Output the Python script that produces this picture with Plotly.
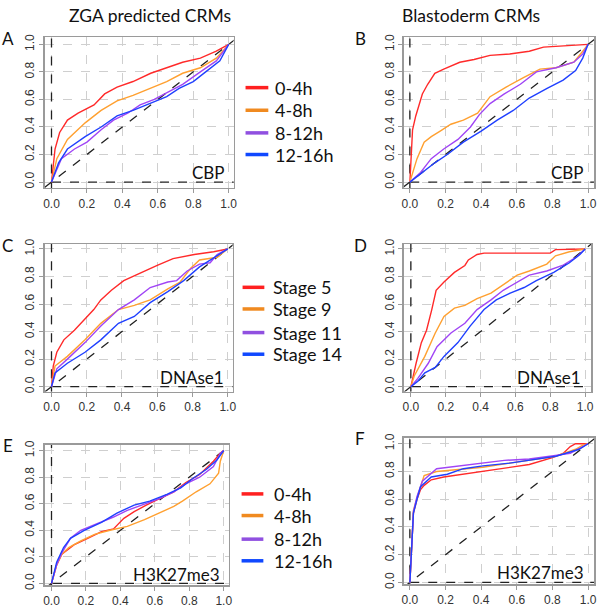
import plotly.graph_objects as go

W, H = 600, 614

# ---------------- data ----------------
series_zga = ["0-4h", "4-8h", "8-12h", "12-16h"]
series_stage = ["Stage 5", "Stage 9", "Stage 11", "Stage 14"]
colors = ["#ff2a2a", "#ffa030", "#a045f5", "#2040ff"]
legend_colors = ["#ff2020", "#f08a20", "#9050e0", "#1048ff"]
tick_vals = [0.0, 0.2, 0.4, 0.6, 0.8, 1.0]
tick_text = ["0.0", "0.2", "0.4", "0.6", "0.8", "1.0"]
col_titles = ["ZGA predicted CRMs", "Blastoderm CRMs"]
panel_letters = ["A", "B", "C", "D", "E", "F"]
panel_marks = ["CBP", "CBP", "DNAse1", "DNAse1", "H3K27me3", "H3K27me3"]

# Panel A: ZGA / CBP
A_red_x = [0, 0.02, 0.046, 0.09, 0.15, 0.20, 0.24, 0.30, 0.37, 0.46, 0.56, 0.65, 0.74, 0.84, 0.93, 1]
A_red_y = [0, 0.24, 0.36, 0.45, 0.50, 0.53, 0.56, 0.64, 0.69, 0.73, 0.79, 0.83, 0.87, 0.90, 0.95, 1]
A_org_x = [0, 0.03, 0.09, 0.19, 0.28, 0.37, 0.46, 0.56, 0.65, 0.74, 0.84, 0.93, 1]
A_org_y = [0, 0.17, 0.31, 0.43, 0.52, 0.59, 0.63, 0.68, 0.73, 0.79, 0.83, 0.90, 1]
A_pur_x = [0, 0.056, 0.13, 0.20, 0.28, 0.35, 0.43, 0.50, 0.58, 0.65, 0.74, 0.84, 0.93, 1]
A_pur_y = [0, 0.17, 0.24, 0.29, 0.38, 0.45, 0.50, 0.56, 0.60, 0.65, 0.71, 0.80, 0.88, 1]
A_blu_x = [0, 0.04, 0.09, 0.19, 0.28, 0.37, 0.46, 0.56, 0.65, 0.72, 0.80, 0.87, 0.95, 1]
A_blu_y = [0, 0.14, 0.24, 0.33, 0.40, 0.48, 0.52, 0.57, 0.62, 0.68, 0.73, 0.80, 0.88, 1]

# Panel B: Blastoderm / CBP
B_red_x = [0, 0.006, 0.015, 0.033, 0.05, 0.07, 0.10, 0.14, 0.19, 0.25, 0.28, 0.36, 0.45, 0.56, 0.67, 0.75, 0.90, 1]
B_red_y = [0, 0.21, 0.38, 0.48, 0.55, 0.64, 0.71, 0.79, 0.82, 0.85, 0.87, 0.89, 0.92, 0.93, 0.95, 0.98, 0.99, 1]
B_org_x = [0, 0.015, 0.04, 0.08, 0.12, 0.17, 0.23, 0.30, 0.38, 0.45, 0.54, 0.64, 0.73, 0.82, 0.92, 0.97, 1]
B_org_y = [0, 0.07, 0.17, 0.29, 0.33, 0.37, 0.42, 0.45, 0.50, 0.62, 0.69, 0.76, 0.82, 0.83, 0.87, 0.95, 1]
B_pur_x = [0, 0.06, 0.12, 0.19, 0.27, 0.34, 0.39, 0.45, 0.53, 0.62, 0.71, 0.82, 0.92, 0.97, 1]
B_pur_y = [0, 0.07, 0.17, 0.24, 0.31, 0.40, 0.49, 0.57, 0.64, 0.71, 0.80, 0.83, 0.87, 0.93, 1]
B_blu_x = [0, 0.06, 0.14, 0.21, 0.30, 0.40, 0.49, 0.58, 0.67, 0.77, 0.86, 0.93, 0.97, 1]
B_blu_y = [0, 0.06, 0.14, 0.20, 0.29, 0.37, 0.45, 0.52, 0.61, 0.68, 0.74, 0.81, 0.90, 1]

# Panel C: ZGA / DNAse1
C_red_x = [0, 0.01, 0.03, 0.07, 0.13, 0.19, 0.24, 0.28, 0.34, 0.41, 0.51, 0.60, 0.69, 0.81, 0.92, 1]
C_red_y = [0, 0.15, 0.25, 0.34, 0.41, 0.49, 0.56, 0.63, 0.70, 0.77, 0.83, 0.88, 0.93, 0.96, 0.98, 1]
C_org_x = [0, 0.02, 0.09, 0.19, 0.28, 0.38, 0.47, 0.56, 0.66, 0.73, 0.79, 0.84, 0.94, 1]
C_org_y = [0, 0.15, 0.22, 0.34, 0.46, 0.56, 0.59, 0.63, 0.71, 0.76, 0.86, 0.92, 0.94, 1]
C_pur_x = [0, 0.03, 0.09, 0.19, 0.28, 0.38, 0.47, 0.56, 0.66, 0.71, 0.77, 0.84, 0.90, 0.94, 1]
C_pur_y = [0, 0.13, 0.20, 0.32, 0.44, 0.56, 0.63, 0.72, 0.76, 0.77, 0.84, 0.89, 0.90, 0.96, 1]
C_blu_x = [0, 0.02, 0.09, 0.19, 0.28, 0.38, 0.47, 0.56, 0.66, 0.75, 0.84, 0.94, 1]
C_blu_y = [0, 0.10, 0.17, 0.25, 0.34, 0.46, 0.51, 0.61, 0.69, 0.77, 0.87, 0.95, 1]

# Panel D: Blastoderm / DNAse1
D_red_x = [0, 0.013, 0.03, 0.06, 0.09, 0.12, 0.145, 0.19, 0.25, 0.31, 0.33, 0.38, 0.42, 0.80, 0.83, 1]
D_red_y = [0, 0.08, 0.17, 0.32, 0.41, 0.56, 0.70, 0.76, 0.83, 0.88, 0.92, 0.96, 0.97, 0.97, 0.995, 1]
D_org_x = [0, 0.02, 0.08, 0.14, 0.19, 0.25, 0.31, 0.38, 0.46, 0.53, 0.61, 0.68, 0.78, 0.83, 0.91, 1]
D_org_y = [0, 0.08, 0.22, 0.39, 0.51, 0.57, 0.59, 0.64, 0.68, 0.74, 0.81, 0.84, 0.89, 0.95, 0.98, 1]
D_pur_x = [0, 0.04, 0.10, 0.15, 0.23, 0.31, 0.38, 0.46, 0.53, 0.61, 0.68, 0.78, 0.87, 0.95, 1]
D_pur_y = [0, 0.06, 0.17, 0.29, 0.39, 0.46, 0.56, 0.63, 0.70, 0.76, 0.81, 0.84, 0.88, 0.94, 1]
D_blu_x = [0, 0.04, 0.08, 0.14, 0.19, 0.27, 0.34, 0.42, 0.49, 0.57, 0.65, 0.72, 0.82, 0.91, 0.97, 1]
D_blu_y = [0, 0.04, 0.10, 0.14, 0.22, 0.32, 0.44, 0.56, 0.63, 0.68, 0.72, 0.77, 0.83, 0.90, 0.96, 1]

# Panel E: ZGA / H3K27me3
E_red_x = [0, 0.03, 0.06, 0.09, 0.13, 0.21, 0.29, 0.36, 0.42, 0.48, 0.55, 0.63, 0.71, 0.78, 0.86, 0.94, 0.98, 1]
E_red_y = [0, 0.14, 0.22, 0.25, 0.29, 0.34, 0.39, 0.41, 0.49, 0.54, 0.59, 0.64, 0.69, 0.76, 0.82, 0.92, 0.98, 1]
E_org_x = [0, 0.03, 0.06, 0.10, 0.17, 0.25, 0.34, 0.44, 0.54, 0.63, 0.71, 0.76, 0.84, 0.92, 0.97, 0.98, 1]
E_org_y = [0, 0.14, 0.22, 0.27, 0.32, 0.37, 0.40, 0.43, 0.48, 0.53, 0.58, 0.62, 0.69, 0.75, 0.83, 0.92, 1]
E_pur_x = [0, 0.03, 0.06, 0.09, 0.11, 0.17, 0.27, 0.36, 0.44, 0.54, 0.63, 0.71, 0.78, 0.86, 0.94, 0.98, 1]
E_pur_y = [0, 0.14, 0.23, 0.29, 0.34, 0.40, 0.45, 0.50, 0.55, 0.60, 0.64, 0.69, 0.75, 0.80, 0.88, 0.98, 1]
E_blu_x = [0, 0.03, 0.07, 0.11, 0.19, 0.29, 0.38, 0.48, 0.57, 0.67, 0.75, 0.82, 0.90, 0.96, 1]
E_blu_y = [0, 0.16, 0.27, 0.34, 0.40, 0.46, 0.53, 0.59, 0.62, 0.67, 0.72, 0.79, 0.86, 0.93, 1]

# Panel F: Blastoderm / H3K27me3
F_red_x = [0, 0.01, 0.02, 0.04, 0.06, 0.08, 0.12, 0.19, 0.30, 0.41, 0.53, 0.67, 0.80, 0.86, 0.90, 0.93, 1]
F_red_y = [0, 0.28, 0.50, 0.60, 0.67, 0.70, 0.74, 0.76, 0.78, 0.80, 0.82, 0.85, 0.90, 0.93, 0.98, 1.0, 1]
F_org_x = [0, 0.01, 0.02, 0.04, 0.06, 0.08, 0.15, 0.30, 0.41, 0.56, 0.71, 0.82, 0.93, 0.97, 1]
F_org_y = [0, 0.30, 0.52, 0.61, 0.69, 0.77, 0.80, 0.82, 0.83, 0.86, 0.89, 0.91, 0.96, 0.99, 1]
F_pur_x = [0, 0.01, 0.02, 0.04, 0.07, 0.15, 0.27, 0.38, 0.53, 0.67, 0.79, 0.90, 0.97, 1]
F_pur_y = [0, 0.30, 0.51, 0.62, 0.73, 0.82, 0.84, 0.86, 0.88, 0.89, 0.91, 0.93, 0.98, 1]
F_blu_x = [0, 0.01, 0.02, 0.04, 0.06, 0.12, 0.21, 0.30, 0.41, 0.56, 0.71, 0.82, 0.95, 1]
F_blu_y = [0, 0.29, 0.50, 0.60, 0.69, 0.76, 0.78, 0.82, 0.84, 0.86, 0.89, 0.91, 0.96, 1]

panels = [
    [(A_red_x, A_red_y), (A_org_x, A_org_y), (A_pur_x, A_pur_y), (A_blu_x, A_blu_y)],
    [(B_red_x, B_red_y), (B_org_x, B_org_y), (B_pur_x, B_pur_y), (B_blu_x, B_blu_y)],
    [(C_red_x, C_red_y), (C_org_x, C_org_y), (C_pur_x, C_pur_y), (C_blu_x, C_blu_y)],
    [(D_red_x, D_red_y), (D_org_x, D_org_y), (D_pur_x, D_pur_y), (D_blu_x, D_blu_y)],
    [(E_red_x, E_red_y), (E_org_x, E_org_y), (E_pur_x, E_pur_y), (E_blu_x, E_blu_y)],
    [(F_red_x, F_red_y), (F_org_x, F_org_y), (F_pur_x, F_pur_y), (F_blu_x, F_blu_y)],
]
panel_names = [series_zga, series_zga, series_stage, series_stage, series_zga, series_zga]

# ---------------- layout geometry (pixels) ----------------
boxes = [
    dict(L=43, R=234, T=33, B=186, x0=50, x1=229, y1=40, y0=180),
    dict(L=406, R=598, T=33, B=186, x0=412, x1=592, y1=40, y0=180),
    dict(L=43, R=233, T=243, B=393, x0=50, x1=228, y1=248, y0=388),
    dict(L=406, R=595, T=243, B=393, x0=413, x1=589, y1=248, y0=388),
    dict(L=43, R=229, T=447, B=590, x0=50, x1=224, y1=453, y0=588),
    dict(L=406, R=598, T=440, B=589, x0=412, x1=592, y1=446, y0=587),
]

FONT = "Lato, Open Sans, sans-serif"
TICKFONT = dict(family="Liberation Sans, Arial, sans-serif", size=12, color="#333333")

fig = go.Figure()
layout = dict(
    width=W, height=H, margin=dict(l=0, r=0, t=0, b=0),
    paper_bgcolor="white", plot_bgcolor="white", showlegend=False,
)
shapes = []
annotations = []

for i, b in enumerate(boxes):
    sx = b["x1"] - b["x0"]
    sy = b["y0"] - b["y1"]
    xr = [-(b["x0"] - b["L"]) / sx, 1 + (b["R"] - b["x1"]) / sx]
    yr = [-(b["B"] - b["y0"]) / sy, 1 + (b["y1"] - b["T"]) / sy]
    xd = [b["L"] / W, b["R"] / W]
    yd = [1 - b["B"] / H, 1 - b["T"] / H]
    n = "" if i == 0 else str(i + 1)
    axstyle = dict(
        showgrid=True, gridcolor="#cfcfcf", griddash="dash", gridwidth=1,
        zeroline=False, showline=True, linecolor="#9a9a9a", linewidth=1.5, mirror=True,
        ticks="outside", ticklen=4, tickcolor="#9a9a9a", tickwidth=1,
        tickvals=tick_vals, ticktext=tick_text, tickfont=TICKFONT, fixedrange=True,
        ticklabeloverflow="allow",
    )
    layout["xaxis" + n] = dict(axstyle, domain=xd, range=xr, anchor="y" + n)
    layout["yaxis" + n] = dict(axstyle, domain=yd, range=yr, anchor="x" + n, tickangle=-90)

    xa, ya = "x" + n, "y" + n
    ref = dict(mode="lines", line=dict(color="#222222", width=1.3, dash="dash"),
               hoverinfo="skip", xaxis=xa, yaxis=ya)
    fig.add_trace(go.Scatter(x=[-0.2, 1.2], y=[-0.2, 1.2], **ref))
    fig.add_trace(go.Scatter(x=[0, 0], y=[-0.2, 1.2], **ref))
    fig.add_trace(go.Scatter(x=[-0.2, 1.2], y=[0, 0], **ref))
    for (cx, cy), col, nm in zip(panels[i], colors, panel_names[i]):
        fig.add_trace(go.Scatter(x=cx, y=cy, mode="lines", name=nm,
                                 line=dict(color=col, width=1.4, shape="linear"),
                                 xaxis=xa, yaxis=ya))
    annotations.append(dict(text=panel_marks[i], xref=xa, yref=ya, x=0.99, y=0.07,
                            xanchor="right", yanchor="middle", showarrow=False,
                            font=dict(family=FONT, size=17, color="#111111")))
    lx = 6 if i % 2 == 0 else 362
    annotations.append(dict(text=panel_letters[i], xref="paper", yref="paper",
                            x=lx / W, y=1 - (b["T"] + 1) / H, xanchor="center",
                            yanchor="middle", showarrow=False,
                            font=dict(family=FONT, size=17, color="#111111")))

for t, cx in zip(col_titles, [149, 474]):
    annotations.append(dict(text=t, xref="paper", yref="paper", x=cx / W, y=1 - 11 / H,
                            xanchor="center", yanchor="middle", showarrow=False,
                            font=dict(family=FONT, size=17.5, color="#111111")))

legend_specs = [
    (series_zga, 246, 269, 274, [84, 107, 130, 152]),
    (series_stage, 243, 265, 272, [287, 309, 333, 355]),
    (series_zga, 242, 264, 273, [497, 519, 543, 565]),
]
for names, lx0, lx1, tx, ys in legend_specs:
    for nm, col, yy in zip(names, legend_colors, ys):
        shapes.append(dict(type="line", xref="paper", yref="paper",
                           x0=lx0 / W, x1=lx1 / W, y0=1 - yy / H, y1=1 - yy / H,
                           line=dict(color=col, width=3.5)))
        annotations.append(dict(text=nm, xref="paper", yref="paper", x=tx / W, y=1 - yy / H,
                                xanchor="left", yanchor="middle", showarrow=False,
                                font=dict(family=FONT, size=18, color="#111111")))

layout["shapes"] = shapes
layout["annotations"] = annotations
fig.update_layout(**layout)
fig.write_html("out.html",
               config={"displayModeBar": False, "staticPlot": True},
               post_script="document.body.style.margin='0';document.body.style.padding='0';"
                           "document.body.style.overflow='hidden';")
